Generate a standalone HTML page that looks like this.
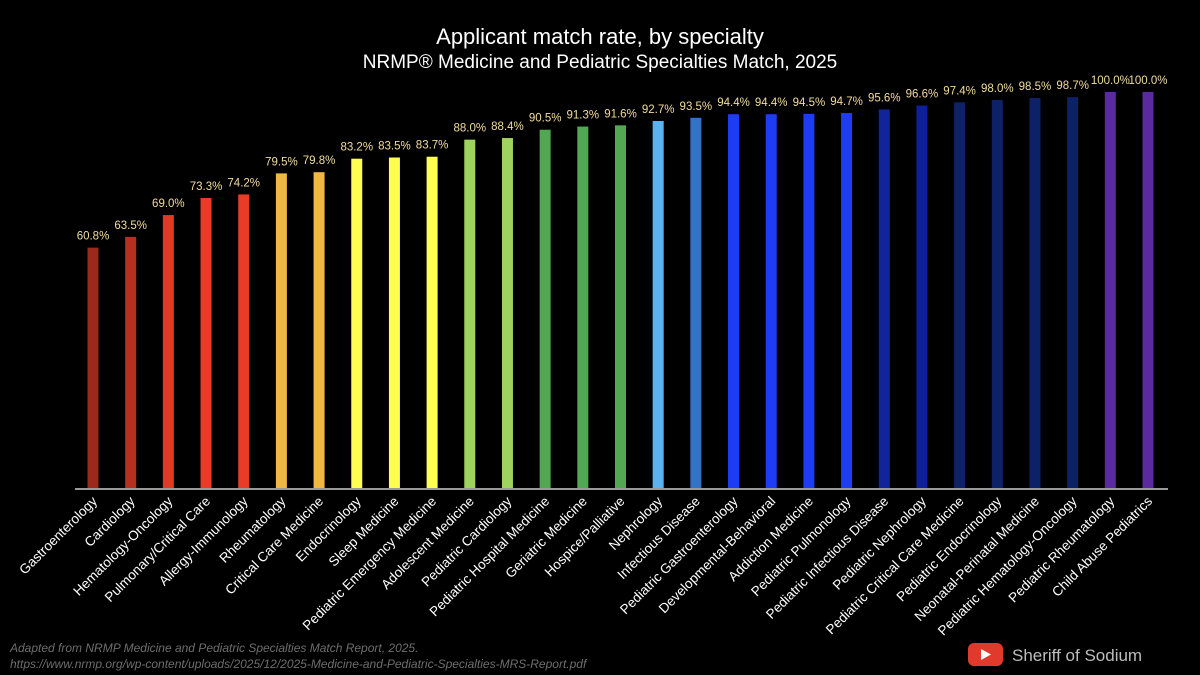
<!DOCTYPE html>
<html><head><meta charset="utf-8"><style>
html,body{margin:0;padding:0;background:#000;}
svg{display:block;font-family:"Liberation Sans",sans-serif;}
</style></head><body>
<svg id="chart" width="1200" height="675" viewBox="0 0 1200 675">
<rect width="1200" height="675" fill="#000"/>
<text x="600" y="44" text-anchor="middle" fill="#fff" font-size="22">Applicant match rate, by specialty</text>
<text x="600" y="68" text-anchor="middle" fill="#fff" font-size="19">NRMP® Medicine and Pediatric Specialties Match, 2025</text>
<g id="bars"></g>
<line x1="75" y1="489" x2="1168" y2="489" stroke="#9a9a9a" stroke-width="2"/>
<text x="10" y="652" fill="#6e6e6e" font-size="12" font-style="italic">Adapted from NRMP Medicine and Pediatric Specialties Match Report, 2025.</text>
<text x="10" y="668" fill="#6e6e6e" font-size="12" font-style="italic">https://www.nrmp.org/wp-content/uploads/2025/12/2025-Medicine-and-Pediatric-Specialties-MRS-Report.pdf</text>
<g>
<rect x="968" y="643" width="35" height="23" rx="6" fill="#e03a2c"/>
<polygon points="981,649 981,660 991,654.5" fill="#fff"/>
</g>
<text x="1012" y="661" fill="#bdbdbd" font-size="17">Sheriff of Sodium</text>
</svg>
<script>
const categories=["Gastroenterology","Cardiology","Hematology-Oncology","Pulmonary/Critical Care","Allergy-Immunology","Rheumatology","Critical Care Medicine","Endocrinology","Sleep Medicine","Pediatric Emergency Medicine","Adolescent Medicine","Pediatric Cardiology","Pediatric Hospital Medicine","Geriatric Medicine","Hospice/Palliative","Nephrology","Infectious Disease","Pediatric Gastroenterology","Developmental-Behavioral","Addiction Medicine","Pediatric Pulmonology","Pediatric Infectious Disease","Pediatric Nephrology","Pediatric Critical Care Medicine","Pediatric Endocrinology","Neonatal-Perinatal Medicine","Pediatric Hematology-Oncology","Pediatric Rheumatology","Child Abuse Pediatrics"];
const values=[60.8,63.5,69.0,73.3,74.2,79.5,79.8,83.2,83.5,83.7,88.0,88.4,90.5,91.3,91.6,92.7,93.5,94.4,94.4,94.5,94.7,95.6,96.6,97.4,98.0,98.5,98.7,100.0,100.0];
const colors=["#9b2a1c","#b5301f","#e03a24","#e83c26","#e83c26","#f0b840","#f0b840","#fefe50","#fefe50","#fefe50","#9fd35f","#9fd35f","#52a852","#52a852","#52a852","#5ab3f0","#3273c8","#1f3cf5","#1f3cf5","#1f3cf5","#1f3cf5","#10259c","#0d1f9a","#0d2266","#0d2266","#0d2266","#0d2266","#5a2aa0","#5a2aa0"];
const NS="http://www.w3.org/2000/svg";
const g=document.getElementById('bars');
const x0=93,step=(1148-93)/28,base=489,h100=397,bw=11;
const xs=i=>x0+i*step;
const ys=v=>base-v/100*h100;
categories.forEach((c,i)=>{
  const x=xs(i),y=ys(values[i]);
  const r=document.createElementNS(NS,'rect');
  r.setAttribute('x',x-bw/2);r.setAttribute('y',y);r.setAttribute('width',bw);r.setAttribute('height',base-y);r.setAttribute('fill',colors[i]);
  
  
  g.appendChild(r);
  const t=document.createElementNS(NS,'text');
  t.setAttribute('x',x);t.setAttribute('y',y-8);t.setAttribute('text-anchor','middle');t.setAttribute('fill','#f3dc9c');t.setAttribute('font-size','11.5');
  t.textContent=values[i].toFixed(1)+'%';
  
  
  g.appendChild(t);
  const l=document.createElementNS(NS,'text');
  const lx=x+5,ly=502;
  l.setAttribute('x',lx);l.setAttribute('y',ly);l.setAttribute('text-anchor','end');l.setAttribute('fill','#fff');l.setAttribute('font-size','13.5');
  l.setAttribute('transform','rotate(-45 '+lx+' '+ly+')');
  l.textContent=c;
  
  
  g.appendChild(l);
});
</script>
</body></html>
